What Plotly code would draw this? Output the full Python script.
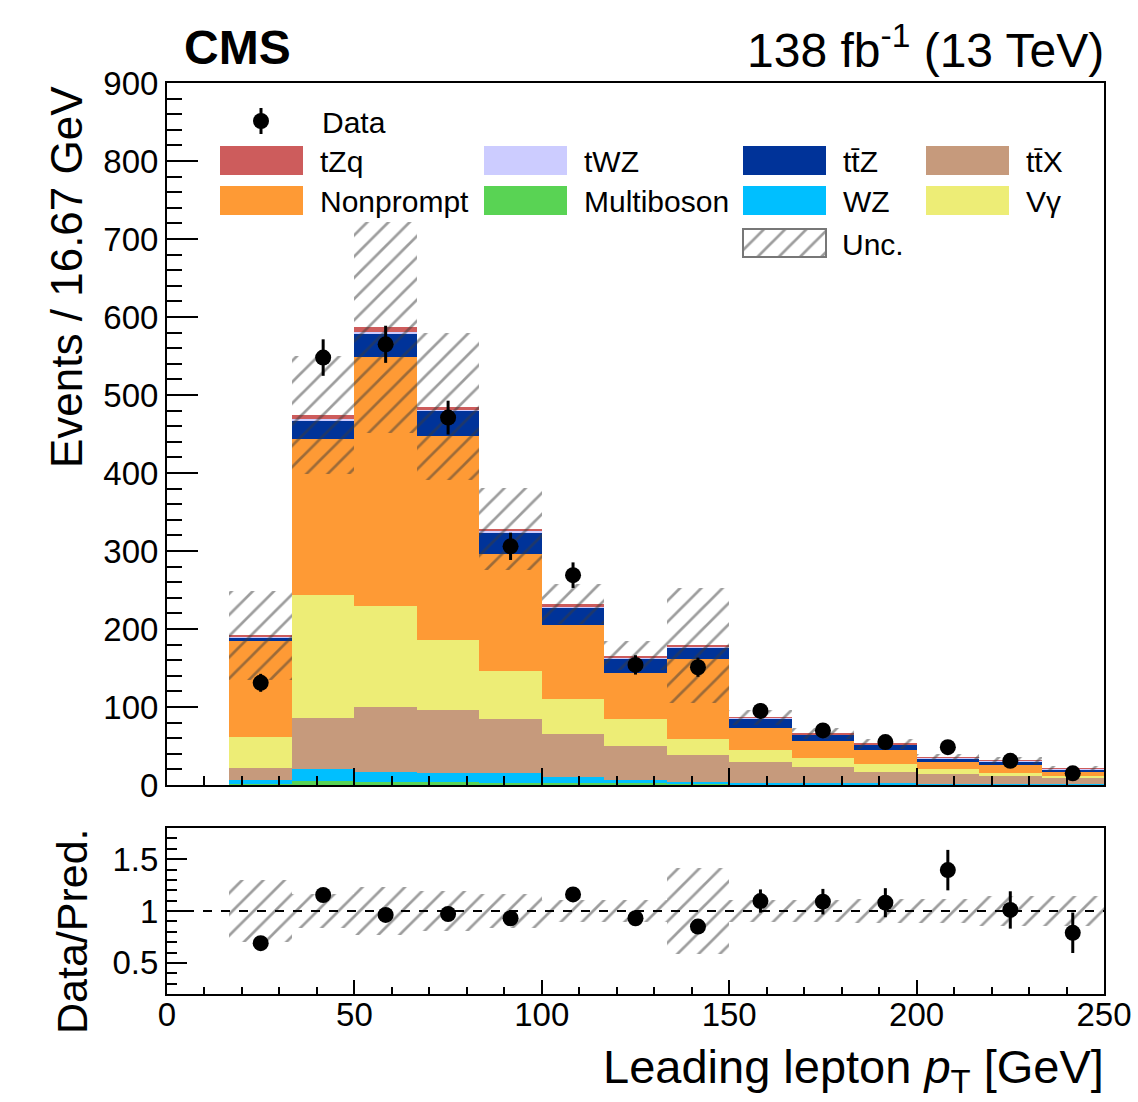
import numpy as np
import plotly.graph_objects as go

W, H = 1138, 1102

# ---------------- data ----------------
bin_edges = [16.67, 33.33, 50.0, 66.67, 83.33, 100.0, 116.67, 133.33,
             150.0, 166.67, 183.33, 200.0, 216.67, 233.33, 250.0]

multiboson = [1.0, 5.5, 3.6, 3.5, 3.0, 2.5, 2.0, 1.5, 1.0, 0.8, 0.6, 0.5, 0.4, 0.3]
wz         = [5.7, 14.4, 13.7, 12.5, 11.8, 8.4, 4.7, 2.5, 2.0, 1.7, 1.4, 1.2, 1.0, 0.8]
ttx        = [14.5, 65.8, 82.5, 79.6, 69.2, 55.1, 43.1, 35.0, 25.9, 20.0, 15.3, 12.7, 9.9, 7.6]
vgamma     = [40.1, 157.3, 130.2, 90.7, 62.0, 43.7, 34.2, 20.3, 15.4, 11.5, 9.0, 5.5, 4.7, 3.1]
nonprompt  = [122.8, 201.0, 318.9, 261.2, 150.0, 94.9, 59.5, 102.1, 29.1, 21.8, 18.0, 9.0, 9.9, 4.6]
ttz        = [5.6, 23.6, 30.0, 32.0, 28.2, 23.5, 19.2, 15.4, 12.3, 9.0, 7.7, 5.5, 4.6, 3.9]
twz        = [0.5, 1.3, 1.3, 1.3, 1.0, 1.0, 0.7, 0.8, 0.5, 0.4, 0.3, 0.4, 0.3, 0.3]
tzq        = [1.6, 5.1, 6.4, 4.3, 3.0, 2.5, 2.6, 1.5, 0.8, 0.8, 0.6, 1.0, 0.6, 0.8]

data     = [131, 548, 565, 471, 306, 269, 154, 151, 95, 70, 55, 48.5, 31, 15]
data_err = [11.5, 23.4, 23.8, 21.7, 17.5, 16.4, 12.4, 12.3, 9.7, 8.4, 7.4, 7.0, 5.6, 3.9]

rel_unc  = [0.30, 0.16, 0.23, 0.195, 0.16, 0.11, 0.11, 0.41, 0.11, 0.11, 0.12, 0.12, 0.14, 0.14]

ratio     = [0.69, 1.154, 0.962, 0.971, 0.93, 1.16, 0.93, 0.85, 1.096, 1.09, 1.08, 1.394, 1.01, 0.79]
ratio_err = [0.06, 0.05, 0.04, 0.045, 0.055, 0.07, 0.075, 0.07, 0.112, 0.123, 0.14, 0.195, 0.18, 0.195]

# stack order, bottom -> top
stack = [
    ("Multiboson", multiboson, "#59d354"),
    ("WZ", wz, "#00bfff"),
    ("tt̄X", ttx, "#c69a7c"),
    ("Vγ", vgamma, "#eded76"),
    ("Nonprompt", nonprompt, "#fe9a35"),
    ("tt̄Z", ttz, "#003399"),
    ("tWZ", twz, "#ccccff"),
    ("tZq", tzq, "#cd5c5c"),
]

FONT = "Liberation Sans, Arial, Helvetica, sans-serif"

edges = np.array(bin_edges)
centers = 0.5 * (edges[:-1] + edges[1:])
widths = edges[1:] - edges[:-1]

def px(x):
    return x / W

def py(y):
    return 1 - y / H

XD = [px(167), px(1104)]
MAIN_Y = [py(785), py(83)]
RAT_Y = [py(994), py(828)]

fig = go.Figure()

# stacked histogram
base = np.zeros(len(centers))
for name, vals, col in stack:
    v = np.array(vals, dtype=float)
    fig.add_trace(go.Bar(x=centers, y=v, base=base.copy(), width=widths,
                         marker=dict(color=col, line=dict(width=0)),
                         xaxis="x", yaxis="y", showlegend=False, name=name))
    base = base + v
total = base

hatch = dict(shape="/", fgcolor="#3c3c3c", bgcolor="rgba(0,0,0,0)",
             size=15, solidity=0.18, fillmode="overlay")

# uncertainty band (main)
unc = total * np.array(rel_unc)
fig.add_trace(go.Bar(x=centers, y=2 * unc, base=total - unc, width=widths,
                     marker=dict(color="rgba(0,0,0,0)", line=dict(width=0), pattern=hatch),
                     xaxis="x", yaxis="y", showlegend=False, name="Unc."))

# data (main)
fig.add_trace(go.Scatter(x=centers, y=data, mode="markers",
                         marker=dict(color="black", size=16),
                         error_y=dict(type="data", array=data_err, color="black",
                                      thickness=3, width=0),
                         xaxis="x", yaxis="y", showlegend=False, name="Data"))

# ratio band
rel = np.array(rel_unc)
fig.add_trace(go.Bar(x=centers, y=2 * rel, base=1 - rel, width=widths,
                     marker=dict(color="rgba(0,0,0,0)", line=dict(width=0), pattern=hatch),
                     xaxis="x2", yaxis="y2", showlegend=False))

# ratio points
fig.add_trace(go.Scatter(x=centers, y=ratio, mode="markers",
                         marker=dict(color="black", size=16),
                         error_y=dict(type="data", array=ratio_err, color="black",
                                      thickness=3, width=0),
                         xaxis="x2", yaxis="y2", showlegend=False))

# legend hatch box (own mini axes)
fig.add_trace(go.Bar(x=[0.5], y=[1], width=[1],
                     marker=dict(color="rgba(0,0,0,0)", line=dict(width=0), pattern=hatch),
                     xaxis="x3", yaxis="y3", showlegend=False, hoverinfo="skip"))

tickfont = dict(family=FONT, size=33, color="black")
common = dict(showline=True, linecolor="black", linewidth=2, mirror=True,
              ticks="inside", tickcolor="black", tickwidth=2, showgrid=False,
              zeroline=False, tickfont=tickfont, automargin=False)

fig.update_layout(
    template="none",
    width=W, height=H,
    margin=dict(l=0, r=0, t=0, b=0, pad=0, autoexpand=False),
    paper_bgcolor="white", plot_bgcolor="white",
    barmode="overlay", bargap=0,
    font=dict(family=FONT, color="black"),
    xaxis=dict(domain=XD, range=[0, 250], anchor="y", dtick=50, tick0=0,
               ticklen=17, showticklabels=False,
               minor=dict(dtick=10, ticklen=9, ticks="inside", tickcolor="black", tickwidth=2),
               **common),
    yaxis=dict(domain=MAIN_Y, range=[0, 900], anchor="x", dtick=100, tick0=0,
               ticklen=31,
               minor=dict(dtick=20, ticklen=15, ticks="inside", tickcolor="black", tickwidth=2),
               **common),
    xaxis2=dict(domain=XD, range=[0, 250], anchor="y2", dtick=50, tick0=0,
                ticklen=14, ticklabelstandoff=-10,
                minor=dict(dtick=10, ticklen=7, ticks="inside", tickcolor="black", tickwidth=2),
                **common),
    yaxis2=dict(domain=RAT_Y, range=[0.2, 1.8], anchor="x2",
                tickvals=[0.5, 1, 1.5], ticktext=["0.5", "1", "1.5"],
                ticklen=20,
                minor=dict(tickvals=[round(0.2 + 0.1 * i, 2) for i in range(17)],
                           ticklen=10, ticks="inside", tickcolor="black", tickwidth=2),
                **common),
    xaxis3=dict(domain=[px(743), px(826)], range=[0, 1], anchor="y3", visible=False,
                fixedrange=True, automargin=False),
    yaxis3=dict(domain=[py(257), py(229)], range=[0, 1], anchor="x3", visible=False,
                fixedrange=True, automargin=False),
)

shapes = []
annotations = []

# dashed line at 1 in ratio
shapes.append(dict(type="line", xref="x2", yref="y2", x0=0, x1=250, y0=1, y1=1,
                   line=dict(color="black", width=2, dash="dash")))

# legend
leg_font = dict(family=FONT, size=30, color="black")
# Data entry
shapes.append(dict(type="line", xref="paper", yref="paper",
                   x0=px(261), x1=px(261), y0=py(108), y1=py(134),
                   line=dict(color="black", width=3)))
shapes.append(dict(type="circle", xref="paper", yref="paper",
                   x0=px(253), x1=px(269), y0=py(129), y1=py(113),
                   fillcolor="black", line=dict(color="black", width=0)))
annotations.append(dict(text="Data", x=px(320), y=py(122), xref="paper", yref="paper",
                        xanchor="left", yanchor="middle", showarrow=False, font=leg_font))

legend_cols = [220, 484, 743, 926]
legend_rows = [(146, 175), (186, 215)]
legend_layout = [
    ("tZq", "#cd5c5c", 0, 0), ("tWZ", "#ccccff", 1, 0), ("tt̄Z", "#003399", 2, 0), ("tt̄X", "#c69a7c", 3, 0),
    ("Nonprompt", "#fe9a35", 0, 1), ("Multiboson", "#59d354", 1, 1), ("WZ", "#00bfff", 2, 1), ("Vγ", "#eded76", 3, 1),
]
for label, col, c, r in legend_layout:
    x0 = legend_cols[c]
    y0, y1 = legend_rows[r]
    shapes.append(dict(type="rect", xref="paper", yref="paper",
                       x0=px(x0), x1=px(x0 + 83), y0=py(y1), y1=py(y0),
                       fillcolor=col, line=dict(width=0)))
    annotations.append(dict(text=label, x=px(x0 + 98), y=py((y0 + y1) / 2 + 1),
                            xref="paper", yref="paper", xanchor="left", yanchor="middle",
                            showarrow=False, font=leg_font))
# Unc. entry border + text
shapes.append(dict(type="rect", xref="paper", yref="paper",
                   x0=px(743), x1=px(826), y0=py(257), y1=py(229),
                   fillcolor="rgba(0,0,0,0)", line=dict(color="#777777", width=2)))
annotations.append(dict(text="Unc.", x=px(840), y=py(244), xref="paper", yref="paper",
                        xanchor="left", yanchor="middle", showarrow=False, font=leg_font))

# header texts
annotations.append(dict(text="<b>CMS</b>", x=px(182), y=py(47), xref="paper", yref="paper",
                        xanchor="left", yanchor="middle", showarrow=False,
                        font=dict(family=FONT, size=48, color="black")))
annotations.append(dict(text="138 fb<sup>-1</sup> (13 TeV)", x=px(1106), y=py(47),
                        xref="paper", yref="paper", xanchor="right", yanchor="middle",
                        showarrow=False, font=dict(family=FONT, size=48, color="black")))

# axis titles
annotations.append(dict(text="Events / 16.67 GeV", x=px(67), y=py(84), xref="paper", yref="paper",
                        xanchor="center", yanchor="top", textangle=-90, showarrow=False,
                        font=dict(family=FONT, size=44, color="black")))
annotations.append(dict(text="Data/Pred.", x=px(72), y=py(826), xref="paper", yref="paper",
                        xanchor="center", yanchor="top", textangle=-90, showarrow=False,
                        font=dict(family=FONT, size=43, color="black")))
annotations.append(dict(text="Leading lepton <i>p</i><sub>T</sub> [GeV]", x=px(1106), y=py(1070),
                        xref="paper", yref="paper", xanchor="right", yanchor="middle",
                        showarrow=False, font=dict(family=FONT, size=47, color="black")))

fig.update_layout(shapes=shapes, annotations=annotations)

fig.write_html("out.html")
